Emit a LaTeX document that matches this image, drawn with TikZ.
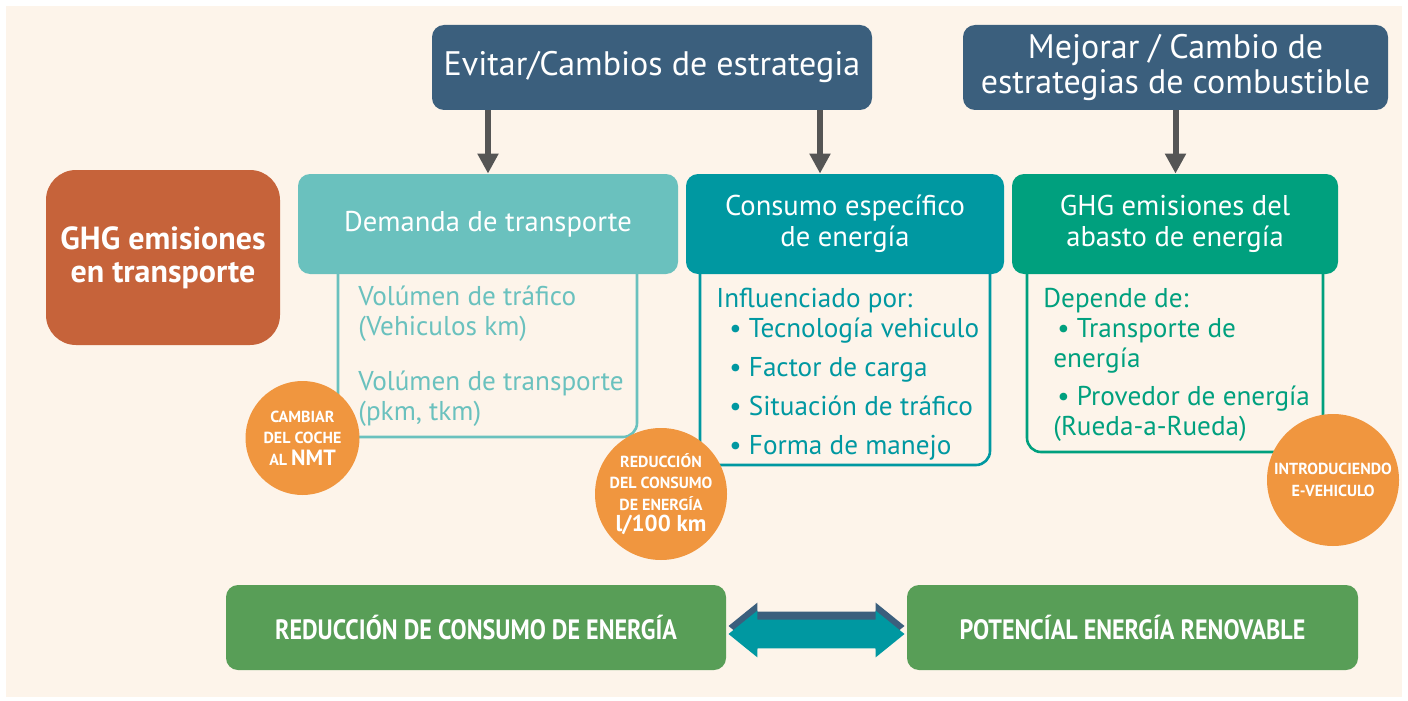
\documentclass[tikz,border=0pt]{standalone}
\usepackage{fontspec}
\setmainfont{PT Sans}
\newfontfamily\narrowfont[FakeStretch=0.86]{PT Sans}
\usetikzlibrary{arrows.meta,shapes,positioning,calc}

\definecolor{cream}{HTML}{FDF4EA}
\definecolor{navy}{HTML}{3B5F7D}
\definecolor{lightteal}{HTML}{6AC1BE}
\definecolor{tealbox}{HTML}{0098A1}
\definecolor{seagreen}{HTML}{00A07E}
\definecolor{rust}{HTML}{C6633A}
\definecolor{dot}{HTML}{F0963F}
\definecolor{leaf}{HTML}{589E57}
\definecolor{arrowgray}{HTML}{555555}

\tikzset{
	header/.style={fill=navy,rounded corners=6pt,text=white,align=center,inner sep=0pt,minimum height=42.5pt,font=\fontsize{17}{17.5}\selectfont},
	topic/.style={rounded corners=6pt,text=white,align=center,inner sep=0pt,minimum height=50pt,font=\fontsize{14.3}{15.5}\selectfont},
	outline/.style={line width=1.3pt,rounded corners=7pt},
	detail/.style={anchor=north west,align=left,inner sep=0pt,font=\fontsize{13.6}{15}\selectfont},
	badge/.style={circle,fill=dot,text=white,align=center,inner sep=0pt,font=\bfseries\fontsize{8}{10.75}\selectfont},
	result/.style={fill=leaf,rounded corners=6pt,text=white,minimum height=42.5pt,inner sep=0pt,font=\narrowfont\bfseries\fontsize{14}{16}\selectfont},
	flow/.style={-{Triangle[width=10pt,length=10pt]},line width=3pt,draw=arrowgray},
	link/.style={double arrow,double arrow tip angle=78,double arrow head extend=4.5pt,minimum height=88pt,minimum width=23pt,inner xsep=0pt,inner ysep=7pt},
}

\begin{document}
\begin{tikzpicture}[x=0.5pt,y=-0.5pt]
	\fill[cream] (6,6) rectangle (1402,697);
	\useasboundingbox (0,0) rectangle (1408,701);

	\draw[outline,lightteal] (338 ,240) rectangle (637 ,437);
	\draw[outline,tealbox  ] (700 ,240) rectangle (990 ,465);
	\draw[outline,seagreen ] (1027,240) rectangle (1323,452);

	\node[header,minimum width=220pt  ] (evitar)  at (652   ,67.5) {Evitar/Cambios de estrategia};
	\node[header,minimum width=212.5pt] (mejorar) at (1175.5,67.5) {Mejorar / Cambio de\\estrategias de combustible};

	\node[fill=rust,rounded corners=15pt,text=white,align=center,minimum width=117pt,minimum height=87.5pt,font=\bfseries\fontsize{16}{16.5}\selectfont] (ghg) at (163,257.5) {GHG emisiones\\en transporte};

	\node[topic,fill=lightteal,minimum width=190pt] (demanda) at (488 ,224) {Demanda de transporte};
	\node[topic,fill=tealbox  ,minimum width=159pt] (consumo) at (845 ,224) {Consumo específico\\de energía};
	\node[topic,fill=seagreen ,minimum width=163pt] (abasto)  at (1175,224) {GHG emisiones del\\abasto de energía};

	\draw[flow] (evitar.south -| demanda.north) -- (demanda.north);
	\draw[flow] (evitar.south -| 820,0) -- (consumo.north -| 820,0);
	\draw[flow] (mejorar.south) -- (mejorar.south |- abasto.north);

	\node[detail,text=lightteal] (volumen)  at (358 ,286) {Volúmen de tráfico\\(Vehiculos km)\\[12.5pt]Volúmen de transporte\\(pkm, tkm)};
	\node[detail,text=tealbox  ] (factores) at (716 ,288) {Influenciado por:\\\hspace{6.5pt}• Tecnología vehiculo\\[4.5pt]\hspace{6.5pt}• Factor de carga\\[4.5pt]\hspace{6.5pt}• Situación de tráfico\\[4.5pt]\hspace{6.5pt}• Forma de manejo};
	\node[detail,text=seagreen ] (fuentes)  at (1043,288) {Depende de:\\\hspace{7pt}• Transporte de\\\hspace{5pt}energía\\[4pt]\hspace{7pt}• Provedor de energía\\\hspace{5pt}(Rueda-a-Rueda)};

	\node[badge,minimum size=57pt] (nmt)       at (302.5,438) {CAMBIAR\\DEL COCHE\\AL {\fontsize{11}{10.75}\selectfont NMT}};
	\node[badge,minimum size=66pt] (menos)     at (661  ,494) {REDUCCIÓN\\DEL CONSUMO\\DE ENERGÍA\\{\fontsize{11.5}{10}\selectfont l/100 km}};
	\node[badge,minimum size=66pt] (electrico) at (1333 ,480) {INTRODUCIENDO\\E-VEHICULO};

	\node[result,minimum width=250pt  ] (ahorro)    at (476   ,627.5) {REDUCCIÓN DE CONSUMO DE ENERGÍA};
	\node[result,minimum width=225.5pt] (renovable) at (1132.5,627.5) {POTENCÍAL ENERGÍA RENOVABLE};

	\node[link,fill=navy   ] (sombra) at ($(ahorro.east)!0.5!(renovable.west)+(0,-1.5)$) {};
	\node[link,fill=tealbox] (enlace) at ($(ahorro.east)!0.5!(renovable.west)+(0,6.5)$) {};
\end{tikzpicture}
\end{document}
